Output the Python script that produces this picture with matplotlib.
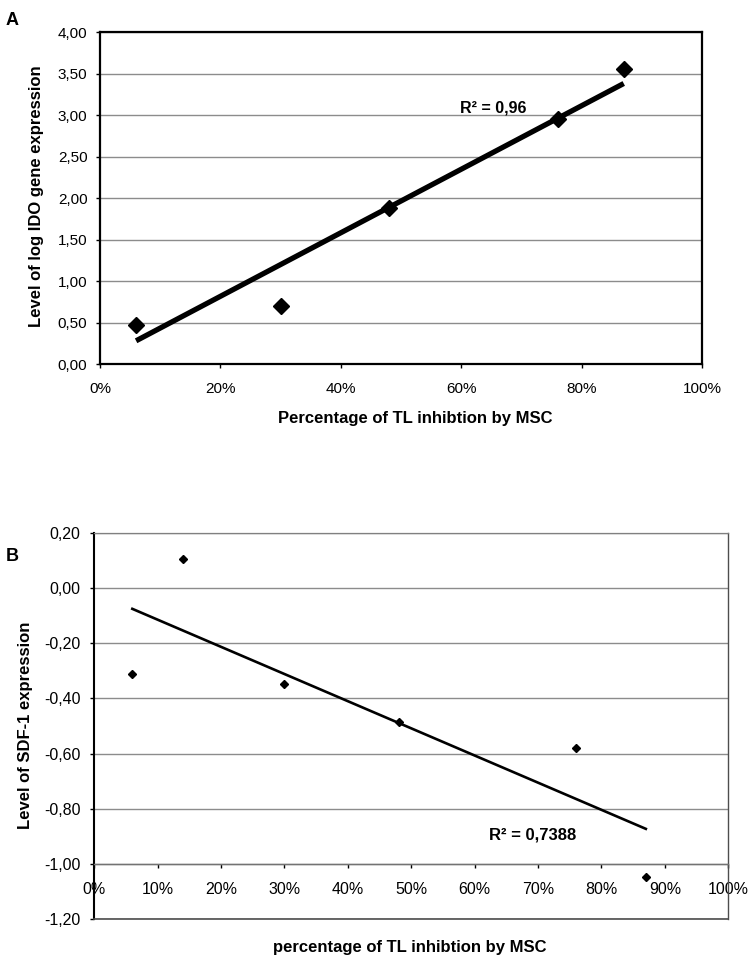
import matplotlib
matplotlib.use("Agg")
import matplotlib.pyplot as plt
from matplotlib.ticker import FuncFormatter, MultipleLocator

plt.rcParams['font.family'] = ['Liberation Sans', 'DejaVu Sans']

# Panel A data
pct_a = [6, 30, 48, 76, 87]
ido_a = [0.47, 0.70, 1.88, 2.95, 3.55]
trend_x_a = [6, 87]
trend_y_a = [0.28, 3.38]
r2_a = "0,96"

# Panel B data
pct_b = [6, 14, 30, 48, 76, 87]
sdf_b = [-0.31, 0.106, -0.347, -0.484, -0.58, -1.047]
trend_x_b = [6, 87]
trend_y_b = [-0.075, -0.873]
r2_b = "0,7388"

def comma(v, pos):
    return f"{v:.2f}".replace(".", ",")

def pctfmt(v, pos):
    return f"{v:.0f}%"

fig = plt.figure(figsize=(7.5, 9.59), dpi=100)

# ---------- Panel A ----------
axA = fig.add_axes([0.1333, 0.6204, 0.8027, 0.3462])
axA.set_xlim(0, 100)
axA.set_ylim(0, 4)
axA.yaxis.set_major_locator(MultipleLocator(0.5))
axA.xaxis.set_major_locator(MultipleLocator(20))
axA.yaxis.set_major_formatter(FuncFormatter(comma))
axA.xaxis.set_major_formatter(FuncFormatter(pctfmt))
axA.grid(axis='y', color='0.55', lw=1.0)
axA.set_axisbelow(True)
for s in axA.spines.values():
    s.set_color('black')
    s.set_linewidth(1.6)
axA.tick_params(axis='both', direction='out', length=3, width=1, labelsize=11, colors='black')
axA.tick_params(axis='x', pad=10)
axA.tick_params(axis='y', pad=6)
axA.plot(trend_x_a, trend_y_a, color='black', lw=3.8, solid_capstyle='butt', zorder=3)
axA.plot(pct_a, ido_a, linestyle='none', marker='D', markersize=8.5, color='black', zorder=4)
axA.text(59.8, 3.08, f"R\u00b2 = {r2_a}", ha='left', va='center', fontsize=11.5, fontweight='bold')
axA.set_ylabel("Level of log IDO gene expression", fontsize=12, fontweight='bold')
axA.yaxis.set_label_coords(-0.093, 0.506)
axA.set_xlabel("Percentage of TL inhibtion by MSC", fontsize=12, fontweight='bold', va='top')
axA.xaxis.set_label_coords(0.523, -0.1416)
fig.text(0.008, 0.987, "A", fontsize=13, fontweight='bold', ha='left', va='top')

# ---------- Panel B ----------
axB = fig.add_axes([0.1257, 0.0417, 0.8453, 0.4025])
axB.set_xlim(0, 100)
axB.set_ylim(-1.2, 0.2)
axB.yaxis.set_major_locator(MultipleLocator(0.2))
axB.xaxis.set_major_locator(MultipleLocator(10))
axB.yaxis.set_major_formatter(FuncFormatter(comma))
axB.xaxis.set_major_formatter(FuncFormatter(pctfmt))
axB.grid(axis='y', color='0.55', lw=1.0)
axB.set_axisbelow(True)
axB.spines['left'].set_color('black')
axB.spines['left'].set_linewidth(1.5)
axB.spines['right'].set_color('0.3')
axB.spines['right'].set_linewidth(1.0)
axB.spines['top'].set_color('0.5')
axB.spines['top'].set_linewidth(0.9)
axB.spines['top'].set_linestyle((0, (2, 1)))
axB.spines['bottom'].set_position(('data', -1.0))
axB.spines['bottom'].set_color('0.45')
axB.spines['bottom'].set_linewidth(1.0)
axB.plot([0, 1], [0, 0], transform=axB.transAxes, color='0.3', lw=1.2, clip_on=False, zorder=5)
axB.tick_params(axis='both', direction='out', length=3, width=1, labelsize=11.5, colors='black')
axB.tick_params(axis='x', pad=10)
axB.tick_params(axis='y', pad=7)
axB.plot(trend_x_b, trend_y_b, color='black', lw=1.9, zorder=3)
axB.plot(pct_b, sdf_b, linestyle='none', marker='D', markersize=4.4, color='black', zorder=4, clip_on=False)
axB.text(62.3, -0.894, f"R\u00b2 = {r2_b}", ha='left', va='center', fontsize=12, fontweight='bold')
axB.set_ylabel("Level of SDF-1 expression", fontsize=12, fontweight='bold')
axB.yaxis.set_label_coords(-0.097, 0.503)
axB.set_xlabel("percentage of TL inhibtion by MSC", fontsize=12, fontweight='bold', va='top')
axB.xaxis.set_label_coords(0.498, -0.055)
fig.text(0.008, 0.429, "B", fontsize=13, fontweight='bold', ha='left', va='top')

fig.savefig("out.png", dpi=100, facecolor='white')
